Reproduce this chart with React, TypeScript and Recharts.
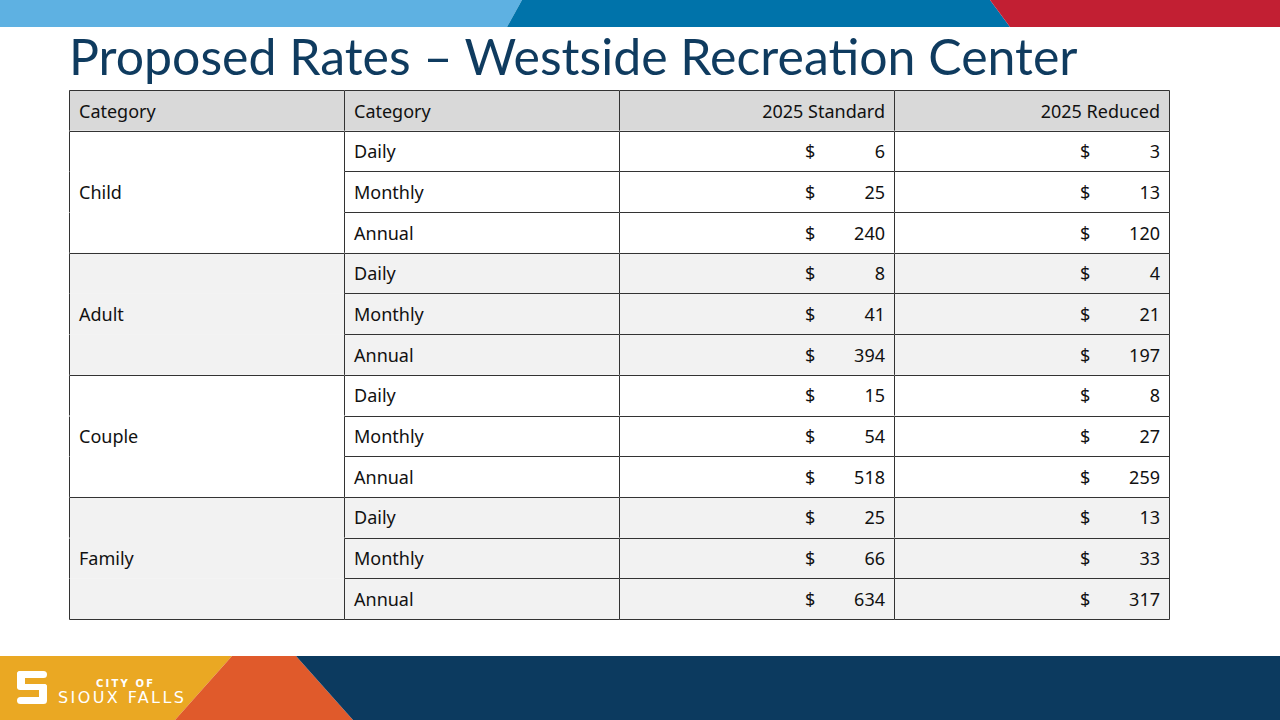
import { BarChart, Bar, XAxis, YAxis } from "recharts";

const GROUPS = ["Child", "Adult", "Couple", "Family"];
const PERIODS = ["Daily", "Monthly", "Annual"];
const HEADERS = ["Category", "Category", "2025 Standard", "2025 Reduced"];
const STANDARD = [6, 25, 240, 8, 41, 394, 15, 54, 518, 25, 66, 634];
const REDUCED = [3, 13, 120, 4, 21, 197, 8, 27, 259, 13, 33, 317];

interface Row {
  key: string;
  header: boolean;
  gi: number;
  pi: number;
  group: string;
  period: string;
  std: number;
  red: number;
  c1: number;
  c2: number;
  c3: number;
  c4: number;
}

const rows: Row[] = [
  {
    key: "header",
    header: true,
    gi: -1,
    pi: -1,
    group: "",
    period: "",
    std: 0,
    red: 0,
    c1: 1,
    c2: 1,
    c3: 1,
    c4: 1,
  },
  ...GROUPS.flatMap((group, gi) =>
    PERIODS.map((period, pi) => ({
      key: `${group}-${period}`,
      header: false,
      gi,
      pi,
      group,
      period,
      std: STANDARD[gi * 3 + pi],
      red: REDUCED[gi * 3 + pi],
      c1: 1,
      c2: 1,
      c3: 1,
      c4: 1,
    }))
  ),
];

const FONT = "'Noto Sans', sans-serif";
const LINE = "#333333";
const TEXT = "#111";

const rowFill = (r: Row) => {
  if (r.header) return "#d9d9d9";
  return r.gi % 2 === 1 ? "#f2f2f2" : "#ffffff";
};

// one cell of the table, drawn as a stacked bar segment
const makeCell = (col: number) => (props: any) => {
  const { x, y, width, height, payload, index } = props;
  const r = payload as Row;
  const x0 = Math.round(x) + 0.5;
  const x1 = Math.round(x + width) + 0.5;
  const y0 = Math.round(y) + 0.5;
  const y1 = Math.round(y + height) + 0.5;
  const cy = y + height / 2;
  const last = index === rows.length - 1;
  const drawTop = col !== 0 || r.header || r.pi === 0;

  let content = null;
  if (r.header) {
    content =
      col < 2 ? (
        <text x={x + 10} y={cy} dominantBaseline="central" fontSize={18} fill={TEXT}>
          {HEADERS[col]}
        </text>
      ) : (
        <text x={x + width - 9} y={cy} textAnchor="end" dominantBaseline="central" fontSize={18} fill={TEXT}>
          {HEADERS[col]}
        </text>
      );
  } else if (col === 0) {
    content =
      r.pi === 1 ? (
        <text x={x + 10} y={cy} dominantBaseline="central" fontSize={18} fill={TEXT}>
          {r.group}
        </text>
      ) : null;
  } else if (col === 1) {
    content = (
      <text x={x + 10} y={cy} dominantBaseline="central" fontSize={18} fill={TEXT}>
        {r.period}
      </text>
    );
  } else {
    const v = col === 2 ? r.std : r.red;
    content = (
      <g>
        <text x={x + width - 89} y={cy} dominantBaseline="central" fontSize={18} fill={TEXT}>
          $
        </text>
        <text x={x + width - 9} y={cy} textAnchor="end" dominantBaseline="central" fontSize={18} fill={TEXT}>
          {v}
        </text>
      </g>
    );
  }

  return (
    <g fontFamily={FONT}>
      <rect x={x} y={y} width={width} height={height} fill={rowFill(r)} />
      {drawTop && <line x1={x0} x2={x1} y1={y0} y2={y0} stroke={LINE} />}
      <line x1={x0} x2={x0} y1={y0} y2={y1} stroke={LINE} />
      {col === 3 && <line x1={x1} x2={x1} y1={y0} y2={y1} stroke={LINE} />}
      {last && <line x1={x0} x2={x1} y1={y1} y2={y1} stroke={LINE} />}
      {content}
    </g>
  );
};

const Decorations = () => (
  <svg width={1280} height={720} style={{ position: "absolute", left: 0, top: 0 }}>
    {/* top band */}
    <polygon points="0,0 522,0 507,27 0,27" fill="#5eb1e2" />
    <polygon points="522,0 990,0 1010,27 507,27" fill="#0073aa" />
    <polygon points="990,0 1280,0 1280,27 1010,27" fill="#c21f33" />
    {/* bottom band */}
    <polygon points="0,656 232,656 175,720 0,720" fill="#eaa823" />
    <polygon points="232,656 296,656 353,720 175,720" fill="#e05a2b" />
    <polygon points="296,656 1280,656 1280,720 353,720" fill="#0c3a5f" />
    {/* logo */}
    <g fill="#ffffff">
      <rect x={17} y={671} width={30} height={7} rx={3.5} />
      <rect x={17} y={671} width={8} height={18} rx={3} />
      <rect x={17} y={684} width={30} height={6} rx={3} />
      <rect x={39} y={684} width={8} height={18} rx={3} />
      <rect x={17} y={697} width={30} height={7} rx={3.5} />
    </g>
    <text x={96} y={687} fill="#ffffff" fontFamily="'DejaVu Sans', sans-serif" fontWeight="bold" fontSize={10} letterSpacing={2.2}>
      CITY OF
    </text>
    <text x={58} y={703} fill="#ffffff" fontFamily="'DejaVu Sans', sans-serif" fontSize={16} letterSpacing={2.4}>
      SIOUX FALLS
    </text>
  </svg>
);

export default function App() {
  return (
    <div
      style={{
        position: "fixed",
        left: 0,
        top: 0,
        width: 1280,
        height: 720,
        background: "#ffffff",
        overflow: "hidden",
      }}
    >
      <Decorations />
      <div
        style={{
          position: "absolute",
          left: 69,
          top: 26,
          fontFamily: "Lato, sans-serif",
          fontSize: 50,
          color: "#0f3b5f",
          whiteSpace: "nowrap",
        }}
      >
        Proposed Rates – Westside Recreation Center
      </div>
      <div style={{ position: "absolute", left: 69, top: 90 }}>
        <BarChart
          width={1101}
          height={530}
          data={rows}
          layout="vertical"
          margin={{ top: 0, right: 1, bottom: 1, left: 0 }}
          barCategoryGap={0}
          barGap={0}
        >
          <XAxis type="number" domain={[0, 4]} hide />
          <YAxis type="category" dataKey="key" hide />
          <Bar dataKey="c1" stackId="t" shape={makeCell(0)} isAnimationActive={false} />
          <Bar dataKey="c2" stackId="t" shape={makeCell(1)} isAnimationActive={false} />
          <Bar dataKey="c3" stackId="t" shape={makeCell(2)} isAnimationActive={false} />
          <Bar dataKey="c4" stackId="t" shape={makeCell(3)} isAnimationActive={false} />
        </BarChart>
      </div>
    </div>
  );
}
